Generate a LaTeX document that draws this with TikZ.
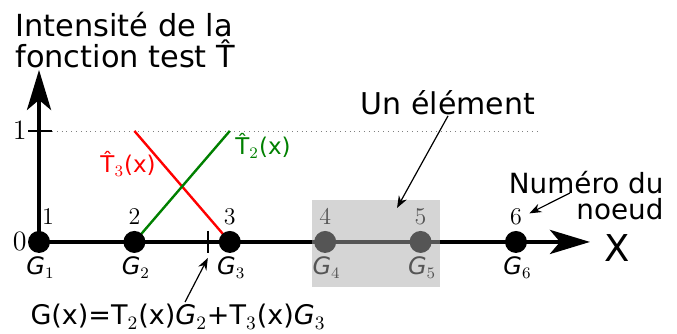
\documentclass[tikz,border=0pt]{standalone}
\usepackage{fix-cm}
\usepackage{fontspec}
\setmainfont{DejaVu Sans}
\usetikzlibrary{arrows.meta}
\tikzset{
  axe/.style={line width=2.3pt,-{Stealth[length=20pt,width=12pt,inset=5pt]}},
  noeud/.style={circle,fill=black,inner sep=0pt,minimum size=11pt},
  numero/.style={font=\fontsize{12}{14}\selectfont,inner sep=0pt},
  graduation/.style={font=\fontsize{14}{16}\selectfont,inner sep=0pt,anchor=east},
  etiq/.style={font=\fontsize{12}{14}\selectfont,inner sep=0pt,anchor=base west},
  texte/.style={font=\fontsize{15}{14}\selectfont,inner sep=0pt},
  fonction/.style={font=\fontsize{11.5}{14}\selectfont,inner sep=0pt,anchor=base west},
  fleche/.style={line width=0.6pt,-{Stealth[length=6pt,width=4.5pt]}},
}
\begin{document}
\begin{tikzpicture}[x=47.7pt,y=55.5pt]
    \useasboundingbox (-0.409,-0.829) rectangle (6.688,2.180);
    % axes et graduations
    \draw[axe] (0,0) -- (0,1.55);
    \draw[axe] (0,0) -- (5.776,0);
    \draw[gray,dotted,line width=0.4pt] (0.136,1) -- (5.25,1);
    \draw[line width=0.7pt] (-0.115,1) -- (0.136,1);
    \draw[line width=0.7pt] (-0.115,0) -- (0,0);
    \node[graduation] (zero) at (-0.125,0) {$0$};
    \node[graduation] (un) at (-0.125,1) {$1$};
    % fonctions test
    \draw[red,line width=1.2pt] (1,1) -- (2,0);
    \draw[green!50!black,line width=1.2pt] (1,0) -- (2,1);
    \node[fonction,red] (t3) at (0.64,0.622) {\^{T}$_3$(x)};
    \node[fonction,green!50!black] (t2) at (2.055,0.784) {\^{T}$_2$(x)};
    % noeuds
    \foreach \i in {1,...,6} {
        \node[noeud] (g\i) at (\i-1,0) {};
        \node[etiq] (G\i) at (\i-1-0.136,-0.295) {\textit{G}$_{\i}$};
    }
    \node[numero] (n1) at (0.094,0.225) {$1$};
    \foreach \i in {2,...,6}
        \node[numero] (n\i) at (\i-1,0.225) {$\i$};
    % point x
    \coordinate (gx) at (1.77,0);
    \draw[line width=0.7pt] ([yshift=5.5pt]gx) -- ([yshift=-5.5pt]gx);
    % element
    \fill[gray!66,opacity=0.5] (2.862,-0.405) rectangle (4.203,0.378);
    % textes
    \node[texte,font=\fontsize{15.2}{14}\selectfont,anchor=north west,align=left] (titre) at (-0.252,2.07) {Intensité de la\\fonction test \^{T}};
    \node[texte,anchor=base] (elem) at (4.288,1.144) {Un élément};
    \node[texte,font=\fontsize{13.9}{13}\selectfont,anchor=north east,align=right] (numnoeud) at (6.55,0.64) {Numéro du\\noeud};
    \node[texte,font=\fontsize{13.5}{14}\selectfont,anchor=base] (formule) at (1.457,-0.748) {G(x)=T$_2$(x)\textit{G}$_2$+T$_3$(x)\textit{G}$_3$};
    \node[font=\fontsize{18.5}{20}\selectfont,inner sep=0pt,anchor=base] (axex) at (6.06,-0.18) {X};
    % fleches
    \coordinate (pelem) at (3.753,0.306);
    \coordinate (pnum) at (5.566,0.441);
    \draw[fleche] (elem.south) -- (pelem);
    \draw[fleche,shorten >=4pt] (pnum) -- (n6.east);
    \draw[fleche] ([xshift=3.5pt,yshift=1pt]formule.north) -- ([yshift=-8pt]gx);
\end{tikzpicture}
\end{document}
